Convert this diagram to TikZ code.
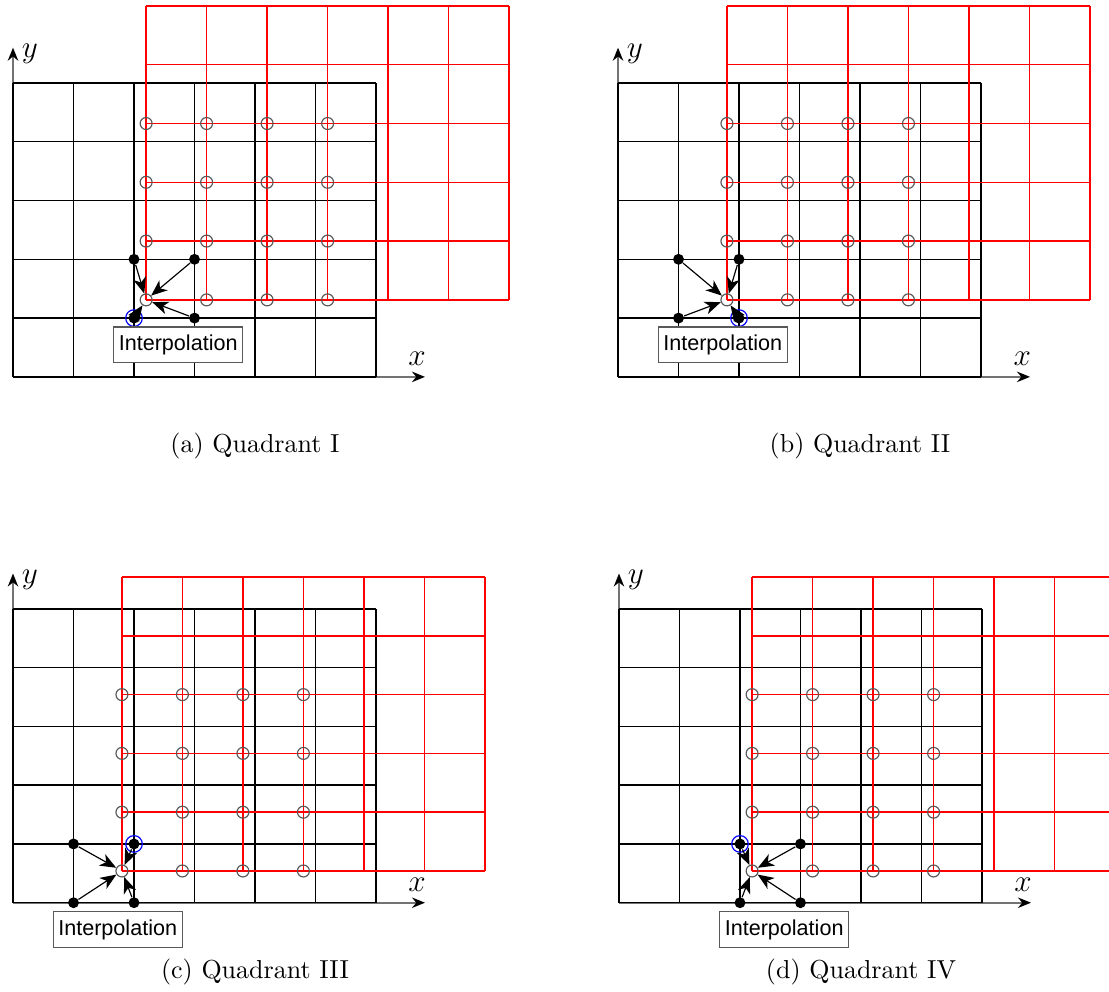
\documentclass[tikz,border=0pt]{standalone}
\usepackage{fontspec}
\newfontfamily\boxfont{Liberation Sans}
\usetikzlibrary{arrows.meta}
\tikzstyle{bgrid}=[black,line width=0.55pt,step=1]
\tikzstyle{rgrid}=[red,line width=0.55pt,step=1]
\tikzstyle{axis}=[draw=black!55,line width=0.8pt,-{Stealth[length=5pt,width=4pt,color=black]}]
\tikzstyle{sample}=[circle,draw=black!65,line width=0.45pt,minimum size=4.6pt,inner sep=0pt]
\tikzstyle{knot}=[circle,fill=black,minimum size=4.2pt,inner sep=0pt]
\tikzstyle{nearest}=[circle,draw=blue,line width=0.45pt,minimum size=6.4pt,inner sep=0pt]
\tikzstyle{interp}=[-{Stealth[length=6.2pt,width=5pt,inset=1.8pt]},line width=0.45pt]
\tikzstyle{ibox}=[draw=black!65,fill=white,line width=0.5pt,minimum width=49.6pt,minimum height=13.8pt,inner sep=0pt,font=\boxfont\fontsize{8.3}{9}\selectfont]

\begin{document}
\begin{tikzpicture}[x=23.27pt,y=22.61pt]
\useasboundingbox (0,0) rectangle (18.33,16.87);
% one panel per quadrant: origin, red grid offset, cell of the target, caption
\foreach \px/\py/\ox/\oy/\cx/\cy/\lab in {0.215/10.459/2.2/1.31/2/1/{(a) Quadrant I},
  10.215/10.459/1.8/1.31/1/1/{(b) Quadrant II},
  0.215/1.514/1.8/0.54/1/0/{(c) Quadrant III},
  10.231/1.514/2.2/0.54/2/0/{(d) Quadrant IV}}{
\begin{scope}[shift={(\px,\py)}]
\coordinate (O) at (0,0);
\coordinate (xend) at (6.81,0);
\coordinate (yend) at (0,5.6);
\draw[axis] (O) -- (xend);
\draw[axis] (O) -- (yend);
\node[font=\large] (xlab) at (6.68,0.31) {$x$};
\node[font=\large] (ylab) at (0.28,5.49) {$y$};
\draw[bgrid] (0,0) grid (6,5);
\draw[rgrid,shift={(\ox,\oy)}] (0,0) grid (6,5);
\foreach \i in {0,...,3}
  \foreach \j in {0,...,3}
    \node[sample] (s\i\j) at (\ox+\i,\oy+\j) {};
\node[knot] (k00) at (\cx,\cy) {};
\node[knot] (k10) at (\cx+1,\cy) {};
\node[knot] (k01) at (\cx,\cy+1) {};
\node[knot] (k11) at (\cx+1,\cy+1) {};
\node[nearest] (nn) at (2,1) {};
\foreach \k in {k00,k10,k01,k11}
  \draw[interp] (\k) -- (s00);
\node[ibox,anchor=north] (box) at (\cx+0.73,\cy-0.14) {Interpolation};
\node (cap) at (4,-1.18) {\lab};
\end{scope}}
\end{tikzpicture}
\end{document}
